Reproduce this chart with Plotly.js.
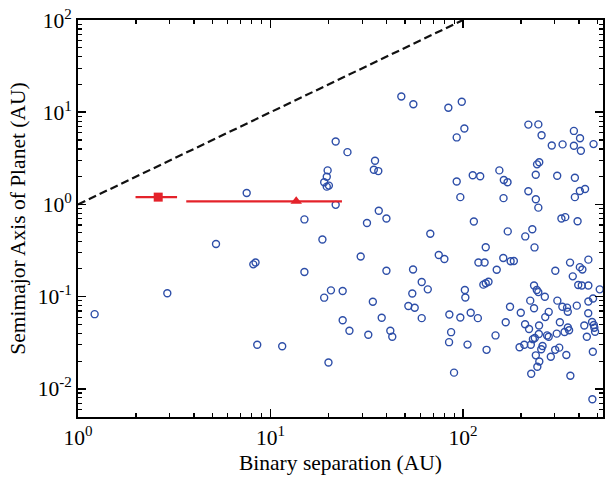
<!DOCTYPE html>
<html><head><meta charset="utf-8">
<script src="https://cdn.plot.ly/plotly-3.0.1.min.js"></script>
<style>html,body{margin:0;padding:0;background:#fff}#chart{width:605px;height:479px}</style>
</head><body><div id="chart"></div>
<script>
// Binary separation (AU) of each planet host
const binarySep = [1.22, 2.91, 5.21, 7.52, 8.14, 8.36, 8.53, 11.5, 15.0, 15.0,
  18.6, 19.0, 19.0, 19.6, 20.1, 19.6, 19.8, 20.0, 20.6, 21.8,
  21.8, 23.7, 23.7, 25.1, 25.7, 29.4, 31.7, 32.2, 34.0, 34.4,
  34.9, 36.3, 36.5, 37.8, 40.0, 40.0, 41.9, 42.9, 47.8, 52.0,
  54.5, 55.0, 55.2, 56.1, 61.0, 61.0, 65.6, 67.6, 74.8, 80.0,
  83.9, 84.6, 84.9, 86.7, 89.8, 92.7, 92.7, 96.8, 96.8, 98.5,
  101.6, 102.2, 102.8, 105.5, 109.6, 112.3, 113.8, 119.4, 120.2, 122.8,
  127.5, 129.4, 131.2, 131.2, 132.5, 135.6, 147.5, 149.6, 154.4, 161.8,
  162.3, 162.9, 166.6, 170.3, 170.7, 175.4, 176.6, 183.6, 196.6, 199.5,
  208, 210, 210.5, 218.4, 218.4, 220.2, 223.4, 225, 226, 229,
  230.6, 233.8, 233.8, 235.1, 235.9, 238.6, 238.8, 238.8, 241.5, 242.3,
  243.2, 246.1, 246.1, 246.1, 247.6, 248.3, 248.8, 249, 255.8, 254.8,
  258.8, 266, 267.3, 273.2, 278.6, 278.6, 285.7, 289, 301.5, 301,
  306.7, 308.4, 309, 316, 318.4, 324.3, 328.9, 328, 336.8, 339.6,
  344, 347, 350, 350.3, 355.5, 359.6, 361, 371.5, 376.5, 376.5,
  381, 381, 389.8, 393.5, 396.6, 404.3, 405.2, 404.3, 409.3, 413.8,
  416.8, 426.4, 430.3, 439.6, 447.7, 447.7, 447.7, 447, 468, 469.7,
  472.3, 473.5, 476.3, 477.8, 480.8, 485, 512.9];
// Semimajor axis of planet (AU)
const planetSma = [0.0646, 0.109, 0.373, 1.33, 0.224, 0.235, 0.0301, 0.0290, 0.688, 0.185,
  0.417, 1.74, 0.0975, 1.56, 1.60, 2.00, 2.34, 0.0193, 0.117, 4.82,
  0.99, 0.115, 0.0555, 3.69, 0.0427, 0.273, 0.630, 0.0386, 0.0880, 2.38,
  2.98, 2.30, 0.855, 0.0590, 0.705, 0.191, 0.0427, 0.0368, 14.8, 0.0793,
  0.108, 0.197, 12.2, 0.0758, 0.144, 0.0585, 0.120, 0.481, 0.283, 0.256,
  11.2, 0.0321, 0.0641, 0.0412, 0.0150, 5.33, 1.77, 1.20, 0.0595, 13.0,
  6.67, 0.118, 0.098, 0.0302, 0.0669, 2.07, 0.654, 0.0585, 0.235, 2.02,
  0.135, 0.235, 0.343, 0.140, 0.0265, 0.145, 0.0380, 0.196, 2.34, 0.263,
  1.17, 1.84, 0.0528, 1.74, 0.510, 0.0777, 0.242, 0.244, 0.0283, 0.0669,
  0.0301, 0.0503, 0.450, 7.34, 1.39, 0.0446, 0.0905, 0.0301, 0.0146, 0.538,
  0.0346, 0.132, 0.0748, 0.342, 0.0356, 2.10, 1.14, 0.0231, 0.118, 2.72,
  0.0174, 7.38, 0.923, 0.112, 0.0394, 0.0487, 2.87, 0.0198, 5.63, 0.0269,
  0.0292, 0.0998, 0.0600, 0.0380, 0.0683, 0.0367, 0.0223, 4.36, 0.191, 0.0265,
  0.0397, 2.05, 0.0905, 0.0280, 0.0528, 0.705, 4.48, 0.0777, 0.0414, 0.728,
  0.0233, 0.0760, 0.0686, 0.0463, 0.0432, 0.234, 0.0139, 0.166, 6.27, 4.33,
  1.95, 1.20, 0.0799, 0.657, 0.134, 1.40, 5.22, 0.209, 3.82, 0.132,
  0.197, 0.0487, 1.47, 0.0367, 0.252, 0.132, 0.0887, 0.0662, 0.0532, 0.00773,
  0.0253, 0.0956, 4.51, 0.0493, 0.0460, 0.0416, 0.120];

// Highlighted systems (square and triangle) with separation uncertainty
const squareSep = [2.61], squareSma = [1.2], squareErrPlus = [0.66], squareErrMinus = [0.62];
const triSep = [13.6], triSma = [1.08], triErrPlus = [9.9], triErrMinus = [9.95];

// a = a_bin reference line
const lineX = [1, 100], lineY = [1, 100];

const xMajor = [1, 10, 100];
const xMajorText = ['10<sup>0</sup>', '10<sup>1</sup>', '10<sup>2</sup>'];
const xMinor = [2,3,4,5,6,7,8,9,20,30,40,50,60,70,80,90,200,300,400,500];
const yMajor = [0.01, 0.1, 1, 10, 100];
const yMajorText = ['10<sup>-2</sup>', '10<sup>-1</sup>', '10<sup>0</sup>', '10<sup>1</sup>', '10<sup>2</sup>'];
const yMinor = [0.005,0.006,0.007,0.008,0.009,0.02,0.03,0.04,0.05,0.06,0.07,0.08,0.09,
  0.2,0.3,0.4,0.5,0.6,0.7,0.8,0.9,2,3,4,5,6,7,8,9,20,30,40,50,60,70,80,90];

const FONT = 'Liberation Serif, Times New Roman, serif';
const RED = '#e4222a';

const traces = [
  {x: lineX, y: lineY, mode: 'lines', line: {color: '#111', width: 2.2, dash: '8px,4px'}, hoverinfo: 'skip'},
  {x: binarySep, y: planetSma, mode: 'markers', type: 'scatter',
   marker: {symbol: 'circle-open', size: 7, color: '#2d4ea8', line: {width: 1.4, color: '#2d4ea8'}}},
  {x: squareSep, y: squareSma, mode: 'markers',
   marker: {symbol: 'square', size: 9, color: RED},
   error_x: {type: 'data', array: squareErrPlus, arrayminus: squareErrMinus, color: RED, thickness: 2.2, width: 0}},
  {x: triSep, y: triSma, mode: 'markers',
   marker: {symbol: 'triangle-up', size: 10, color: RED},
   error_x: {type: 'data', array: triErrPlus, arrayminus: triErrMinus, color: RED, thickness: 2.2, width: 0}}
];

const axisCommon = {
  type: 'log', showgrid: false, zeroline: false,
  showline: true, linecolor: '#000', linewidth: 2, mirror: 'allticks',
  ticks: 'inside', ticklen: 8, tickwidth: 1.5, tickcolor: '#000',
  tickfont: {family: FONT, size: 21.5, color: '#000'},
  tickmode: 'array'
};

const layout = {
  width: 605, height: 479,
  margin: {l: 78, r: 2, t: 20, b: 62},
  paper_bgcolor: '#fff', plot_bgcolor: '#fff',
  showlegend: false,
  font: {family: FONT, color: '#000'},
  xaxis: Object.assign({}, axisCommon, {
    range: [0, 2.727], tickvals: xMajor, ticktext: xMajorText,
    minor: {tickmode: 'array', tickvals: xMinor, ticks: 'inside', ticklen: 4, tickwidth: 1.2, tickcolor: '#000', showgrid: false},
    title: {text: 'Binary separation (AU)', font: {family: FONT, size: 21.5, color: '#000'}, standoff: 6}
  }),
  yaxis: Object.assign({}, axisCommon, {
    range: [-2.305, 2], tickvals: yMajor, ticktext: yMajorText,
    minor: {tickmode: 'array', tickvals: yMinor, ticks: 'inside', ticklen: 4, tickwidth: 1.2, tickcolor: '#000', showgrid: false},
    title: {text: 'Semimajor Axis of Planet (AU)', font: {family: FONT, size: 21.5, color: '#000'}, standoff: 6}
  })
};

Plotly.newPlot('chart', traces, layout, {displayModeBar: false, staticPlot: true});
</script>
</body></html>
